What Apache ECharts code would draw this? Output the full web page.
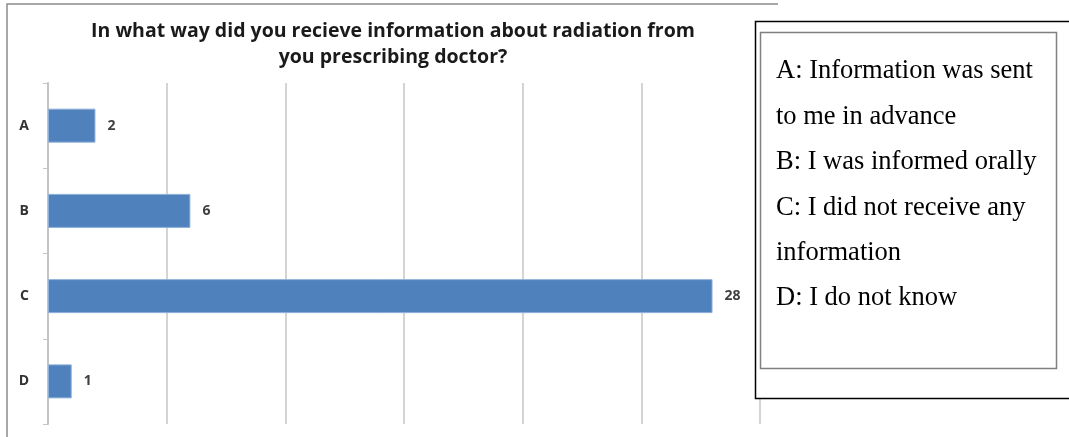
<!DOCTYPE html>
<html>
<head>
<meta charset="utf-8">
<script src="https://cdn.jsdelivr.net/npm/echarts@6/dist/echarts.min.js"></script>
<style>
  html, body { margin: 0; padding: 0; background: #fff; }
  #chart { width: 1069px; height: 437px; }
</style>
</head>
<body>
<div id="chart"></div>
<script>
const categories = ['A', 'B', 'C', 'D'];
const counts = [2, 6, 28, 1];
const titleLines = [
  'In what way did you recieve information about radiation from',
  'you prescribing doctor?'
];
const legendLines = [
  'A: Information was sent',
  'to me in advance',
  'B: I was informed orally',
  'C: I did not receive any',
  'information',
  'D: I do not know'
];

const chart = echarts.init(document.getElementById('chart'));

const legendTexts = legendLines.map((line, i) => ({
  type: 'text',
  left: 776,
  top: 58 + i * 45.4,
  z: 30,
  style: {
    text: line,
    font: '26.5px "Liberation Serif", "Times New Roman", serif',
    fill: '#000'
  }
}));

chart.setOption({
  animation: false,
  title: {
    text: titleLines.join('\n'),
    left: 388,
    top: 13,
    textAlign: 'center',
    textStyle: {
      fontFamily: '"Open Sans", sans-serif',
      fontWeight: 'bold',
      fontSize: 19.5,
      lineHeight: 26,
      color: '#1a1a1a'
    }
  },
  grid: { left: 48, top: 83, width: 712, height: 341 },
  xAxis: {
    type: 'value',
    min: 0,
    max: 30,
    interval: 5,
    axisLabel: { show: false },
    axisLine: { show: false },
    axisTick: { show: false },
    splitLine: { show: true, lineStyle: { color: '#d4d4d4', width: 2 } }
  },
  yAxis: {
    type: 'category',
    data: categories,
    inverse: true,
    axisLine: { show: true, lineStyle: { color: '#c4c4c4', width: 2 } },
    axisTick: { show: true, length: 5, lineStyle: { color: '#c4c4c4', width: 1 } },
    axisLabel: {
      margin: 19,
      fontFamily: '"Open Sans", sans-serif',
      fontWeight: 'bold',
      fontSize: 14,
      color: '#333'
    }
  },
  series: [{
    type: 'bar',
    data: counts,
    barWidth: 34,
    itemStyle: { color: '#4f81bd', borderColor: '#8fb0d8', borderWidth: 1 },
    label: {
      show: true,
      position: 'right',
      distance: 12,
      fontFamily: '"Open Sans", sans-serif',
      fontWeight: 'bold',
      fontSize: 14,
      color: '#404040'
    }
  }],
  graphic: [
    {
      type: 'polyline',
      z: 5,
      shape: { points: [[7, 437], [7, 4], [778, 4]] },
      style: { stroke: '#8c8c8c', lineWidth: 1.5, fill: null }
    },
    {
      type: 'rect',
      z: 20,
      shape: { x: 755.5, y: 21.5, width: 330, height: 377 },
      style: { fill: '#fff', stroke: '#000', lineWidth: 1.5 }
    },
    {
      type: 'rect',
      z: 21,
      shape: { x: 760.5, y: 32.5, width: 296, height: 336 },
      style: { fill: '#fff', stroke: '#808080', lineWidth: 1.5 }
    },
    ...legendTexts
  ]
});
</script>
</body>
</html>
